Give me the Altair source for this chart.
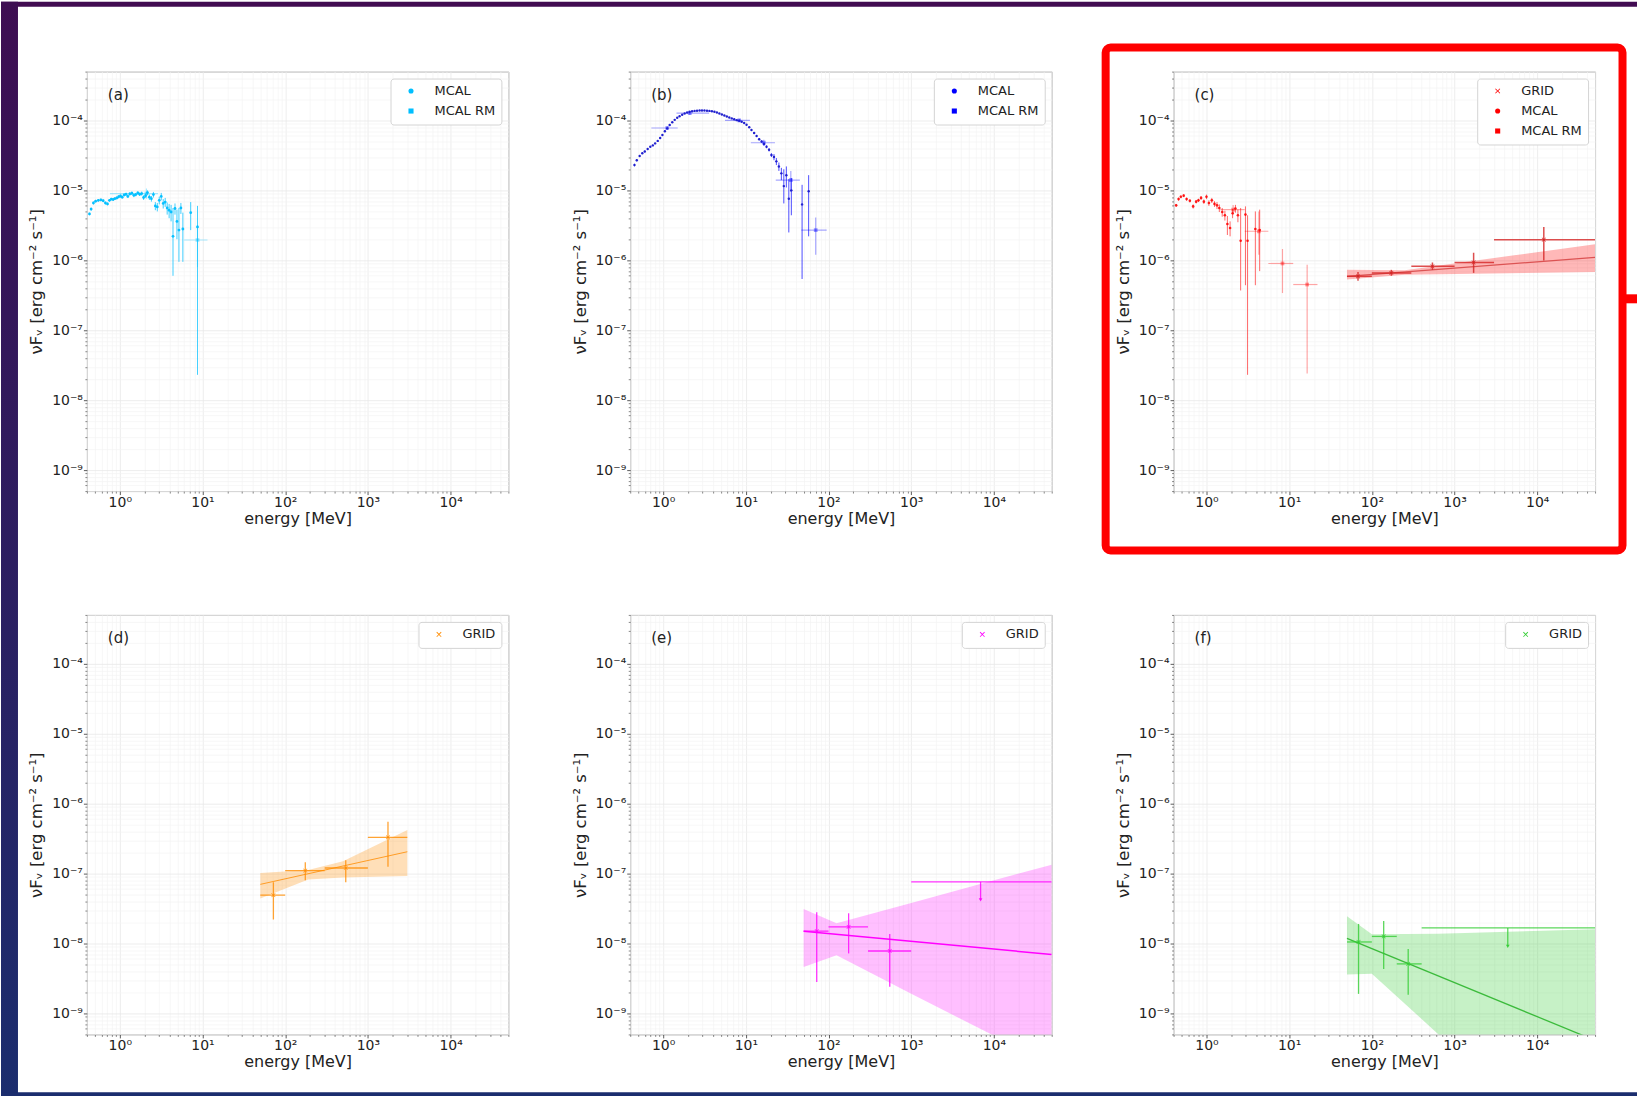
import altair as alt
import pandas as pd

FONT = "DejaVu Sans"
W, H = 422, 420
XS = alt.Scale(type="log", domain=[0.4, 5e4], nice=False)
YS = alt.Scale(type="log", domain=[5e-10, 5e-4], nice=False)
XPATH = "M-1,-0.78L-0.78,-1L0,-0.22L0.78,-1L1,-0.78L0.22,0L1,0.78L0.78,1L0,0.22L-0.78,1L-1,0.78L-0.22,0Z"

# ---------------- tick labels ----------------
X_MAJOR = [1, 10, 100, 1000, 10000]
X_EXP = [0, 1, 2, 3, 4]
X_TXT = ["10⁰", "10¹", "10²", "10³", "10⁴"]
Y_MAJOR = [1e-9, 1e-8, 1e-7, 1e-6, 1e-5, 1e-4]
Y_EXP = [-9, -8, -7, -6, -5, -4]
Y_TXT = ["10⁻⁹", "10⁻⁸", "10⁻⁷", "10⁻⁶", "10⁻⁵", "10⁻⁴"]
X_MINOR = [m * 10.0 ** k for k in range(-1, 5) for m in range(2, 10) if 0.4 <= m * 10.0 ** k <= 5e4]
Y_MINOR = [m * 10.0 ** k for k in range(-10, -3) for m in range(2, 10) if 5e-10 <= m * 10.0 ** k <= 5e-4]
X_TITLE = "energy [MeV]"
Y_TITLE = "νFᵥ [erg cm⁻² s⁻¹]"

# ---------------- panel (a) ----------------
a_E = [0.43, 0.45, 0.48, 0.51, 0.55, 0.59, 0.63, 0.67, 0.71, 0.75, 0.79, 0.83, 0.87, 0.92, 0.97, 1.02, 1.07,
       1.13, 1.19, 1.25, 1.32, 1.40, 1.48, 1.56, 1.65, 1.74, 1.84, 1.94, 2.05, 2.16, 2.28, 2.41, 2.55, 2.69,
       2.84, 3.00, 3.17, 3.35, 3.54, 3.74, 3.95, 4.17, 4.40, 4.65, 4.91, 5.19, 5.48, 5.79, 7.2, 8.7]
a_F = [4.6, 5.4, 6.6, 7.0, 7.2, 7.3, 7.1, 6.6, 6.4, 7.2, 7.5, 7.4, 7.6, 7.8, 8.1, 8.3, 8.0, 8.6, 8.8, 8.2,
       8.9, 9.1, 8.5, 8.7, 9.2, 8.8, 9.0, 7.9, 8.4, 9.3, 8.0, 7.6, 8.7, 6.0, 5.8, 7.2, 8.2, 6.5, 6.8, 5.6,
       5.2, 4.9, 2.2, 5.5, 3.6, 2.7, 5.6, 2.8, 4.8, 3.0]
a_lo = [4.4, 5.1, 6.3, 6.7, 6.9, 7.0, 6.8, 6.3, 6.1, 6.9, 7.2, 7.1, 7.3, 7.4, 7.7, 7.9, 7.6, 8.2, 8.4, 7.8,
        8.4, 8.6, 8.0, 8.2, 8.7, 8.3, 8.4, 7.3, 7.8, 8.6, 7.3, 6.9, 7.9, 5.2, 5.0, 6.3, 7.2, 5.5, 5.8, 4.5,
        4.0, 3.6, 0.6, 4.5, 2.0, 0.95, 4.6, 0.95, 2.7, 0.023]
a_hi = [4.8, 5.7, 6.9, 7.3, 7.5, 7.6, 7.4, 6.9, 6.7, 7.5, 7.8, 7.7, 7.9, 8.2, 8.5, 8.7, 8.4, 9.0, 9.2, 8.6,
        9.4, 9.6, 9.0, 9.2, 9.7, 9.3, 9.6, 8.5, 9.0, 10.0, 8.7, 8.3, 9.5, 6.8, 6.6, 8.1, 9.2, 7.5, 7.8, 6.7,
        6.4, 6.2, 5.6, 6.5, 5.3, 5.6, 6.6, 4.8, 6.8, 6.0]
a_unit = 1e-6
a_rm_E = [2.1, 8.7]
a_rm_F = [9.0e-6, 1.95e-6]
a_rm_xlo = [0.76, 6.0]
a_rm_xhi = [2.9, 11.5]
a_rm_lo = [7.6e-6, 8.0e-7]
a_rm_hi = [1.06e-5, 3.2e-6]

# ---------------- panel (b) ----------------
b_E = [0.45, 0.48, 0.52, 0.56, 0.60, 0.65, 0.70, 0.75, 0.80, 0.86, 0.92, 0.98, 1.05, 1.12, 1.20, 1.29, 1.38,
       1.48, 1.58, 1.70, 1.82, 1.95, 2.09, 2.24, 2.40, 2.57, 2.76, 2.95, 3.16, 3.39, 3.63, 3.89, 4.17, 4.47,
       4.79, 5.13, 5.50, 5.89, 6.31, 6.76, 7.24, 7.76, 8.32, 8.91, 9.55, 10.2, 11.0, 11.7, 12.6, 13.5, 14.5,
       15.5, 16.6, 17.8, 19.1, 20.4, 21.9, 23.4, 25.1, 26.9, 28.8, 30.9, 33.1, 35.5, 47.9, 57.5]
b_F = [2.3, 2.7, 3.1, 3.4, 3.6, 3.9, 4.2, 4.4, 4.7, 5.1, 5.6, 6.2, 7.0, 7.7, 8.6, 9.4, 10.2, 10.9, 11.5, 12.1,
       12.6, 13.0, 13.3, 13.5, 13.7, 13.8, 13.9, 13.9, 13.9, 13.8, 13.7, 13.5, 13.3, 13.0, 12.6, 12.2, 11.8,
       11.4, 11.0, 10.7, 10.4, 10.1, 9.9, 9.6, 9.2, 8.7, 8.0, 7.3, 6.6, 6.0, 5.4, 5.0, 4.6, 4.2, 3.8, 3.2, 3.0,
       2.6, 2.2, 1.75, 1.15, 1.65, 0.76, 1.0, 0.63, 0.97]
b_lo = [2.2, 2.6, 3.0, 3.3, 3.5, 3.8, 4.1, 4.3, 4.6, 5.0, 5.5, 6.0, 6.8, 7.5, 8.4, 9.2, 10.0, 10.7, 11.3, 11.9,
        12.4, 12.8, 13.1, 13.3, 13.5, 13.6, 13.7, 13.7, 13.7, 13.6, 13.5, 13.3, 13.1, 12.8, 12.4, 12.0, 11.6,
        11.2, 10.8, 10.5, 10.2, 9.9, 9.7, 9.4, 9.0, 8.5, 7.8, 7.1, 6.4, 5.8, 5.2, 4.8, 4.4, 4.0, 3.6, 3.0, 2.7,
        2.3, 1.9, 1.4, 0.65, 1.1, 0.25, 0.44, 0.054, 0.22]
b_hi = [2.4, 2.8, 3.2, 3.5, 3.7, 4.0, 4.3, 4.5, 4.8, 5.2, 5.7, 6.4, 7.2, 7.9, 8.8, 9.6, 10.4, 11.1, 11.7, 12.3,
        12.8, 13.2, 13.5, 13.7, 13.9, 14.0, 14.1, 14.1, 14.1, 14.0, 13.9, 13.7, 13.5, 13.2, 12.8, 12.4, 12.0,
        11.6, 11.2, 10.9, 10.6, 10.3, 10.1, 9.8, 9.4, 8.9, 8.2, 7.5, 6.8, 6.2, 5.6, 5.2, 4.8, 4.4, 4.0, 3.4, 3.3,
        2.9, 2.5, 2.1, 2.0, 2.2, 1.45, 1.5, 1.2, 1.65]
b_unit = 1e-5
b_rm_E = [1.12, 2.1, 8.3, 16.5, 35, 70]
b_rm_F = [7.8e-5, 1.27e-4, 1.0e-4, 4.8e-5, 1.4e-5, 2.7e-6]
b_rm_xlo = [0.72, 1.45, 5.6, 11.5, 23, 47]
b_rm_xhi = [1.5, 3.6, 11.2, 22.5, 45, 95]
b_rm_lo = [7.3e-5, 1.2e-4, 9.4e-5, 4.3e-5, 9.5e-6, 1.2e-6]
b_rm_hi = [8.3e-5, 1.34e-4, 1.06e-4, 5.3e-5, 1.9e-5, 4.1e-6]

# ---------------- panel (c) ----------------
c_E = [0.43, 0.46, 0.49, 0.53, 0.575, 0.63, 0.69, 0.75, 0.80, 0.86, 0.93, 1.0, 1.07, 1.16, 1.25, 1.34, 1.43,
       1.55, 1.67, 1.79, 1.93, 2.07, 2.24, 2.40, 2.59, 2.96, 3.14, 3.9, 4.4]
c_F = [6.1, 7.5, 8.1, 8.4, 7.5, 7.1, 5.9, 6.9, 7.2, 7.8, 6.9, 8.1, 6.6, 7.2, 6.4, 6.1, 5.6, 4.9, 4.4, 3.3,
       2.9, 4.7, 5.5, 4.4, 1.9, 4.5, 1.9, 2.8, 2.7]
c_lo = [5.8, 7.1, 7.7, 8.0, 7.1, 6.7, 5.5, 6.5, 6.8, 7.3, 6.4, 7.5, 6.0, 6.6, 5.8, 5.4, 4.9, 4.2, 3.7, 2.3,
        2.2, 4.0, 4.8, 3.5, 0.37, 0.44, 0.023, 0.44, 0.70]
c_hi = [6.4, 7.9, 8.5, 8.8, 7.9, 7.5, 6.3, 7.3, 7.6, 8.3, 7.4, 8.7, 7.2, 7.8, 7.0, 6.8, 6.3, 5.6, 5.1, 4.3,
        3.6, 5.4, 6.2, 5.3, 5.6, 5.9, 4.4, 5.0, 5.3]
c_unit = 1e-6
c_rm_E = [2.1, 4.3, 8.3, 16.5]
c_rm_F = [5.3e-6, 2.6e-6, 9.0e-7, 4.5e-7]
c_rm_xlo = [1.47, 2.9, 5.6, 11.2]
c_rm_xhi = [2.9, 5.6, 11.2, 22.0]
c_rm_lo = [4.5e-6, 1.2e-6, 3.4e-7, 2.4e-8]
c_rm_hi = [6.2e-6, 5.0e-6, 1.45e-6, 8.6e-7]
c_g_E = [68, 172, 540, 1700, 12000]
c_g_F = [5.9e-7, 6.6e-7, 8.2e-7, 9.3e-7, 1.97e-6]
c_g_lo = [5.1e-7, 6.0e-7, 7.3e-7, 6.6e-7, 9.9e-7]
c_g_hi = [6.8e-7, 7.3e-7, 9.3e-7, 1.28e-6, 3.0e-6]
c_g_xlo = [50, 100, 300, 1000, 3000]
c_g_xhi = [100, 300, 1000, 3000, 50000]
c_fit_E = [50, 50000]
c_fit_F = [5.9e-7, 1.1e-6]
c_band_E = [50, 250, 50000]
c_band_lo = [5.3e-7, 6.2e-7, 6.8e-7]
c_band_hi = [7.3e-7, 7.2e-7, 1.7e-6]

# ---------------- panel (d) ----------------
d_g_E = [72, 175, 540, 1750]
d_g_F = [4.9e-8, 1.1e-7, 1.2e-7, 3.3e-7]
d_g_lo = [2.2e-8, 8.0e-8, 7.5e-8, 1.25e-7]
d_g_hi = [7.5e-8, 1.45e-7, 1.55e-7, 5.5e-7]
d_g_xlo = [50, 100, 300, 1000]
d_g_xhi = [100, 300, 1000, 3000]
d_fit_E = [50, 3000]
d_fit_F = [7.0e-8, 2.05e-7]
d_band_E = [50, 190, 500, 3000]
d_band_lo = [4.4e-8, 8.2e-8, 8.8e-8, 9.2e-8]
d_band_hi = [1.02e-7, 1.12e-7, 1.5e-7, 4.2e-7]

# ---------------- panel (e) ----------------
e_g_E = [72, 175, 550]
e_g_F = [1.5e-8, 1.73e-8, 7.8e-9]
e_g_lo = [2.8e-9, 7.2e-9, 2.4e-9]
e_g_hi = [2.8e-8, 2.7e-8, 1.37e-8]
e_g_xlo = [50, 100, 300]
e_g_xhi = [100, 300, 1000]
e_ul_E = [6900]
e_ul_F = [7.6e-8]
e_ul_end = [4.2e-8]
e_ul_xlo = [1000]
e_ul_xhi = [50000]
e_fit_E = [50, 50000]
e_fit_F = [1.5e-8, 6.95e-9]
e_band_E = [50, 125, 1000, 10000, 50000]
e_band_lo = [4.6e-9, 6.8e-9, 1.9e-9, 4.8e-10, 1.9e-10]
e_band_hi = [3.1e-8, 1.95e-8, 3.8e-8, 8.0e-8, 1.34e-7]

# ---------------- panel (f) ----------------
f_g_E = [69, 139, 275]
f_g_F = [1.05e-8, 1.26e-8, 5.1e-9]
f_g_lo = [1.9e-9, 4.3e-9, 1.85e-9]
f_g_hi = [1.9e-8, 2.1e-8, 8.3e-9]
f_g_xlo = [50, 100, 200]
f_g_xhi = [100, 200, 400]
f_ul_E = [4400]
f_ul_F = [1.67e-8]
f_ul_end = [9.1e-9]
f_ul_xlo = [400]
f_ul_xhi = [50000]
f_fit_E = [50, 50000]
f_fit_F = [1.18e-8, 4.1e-10]
f_band_E = [50, 100, 640, 50000]
f_band_lo = [3.6e-9, 3.7e-9, 5.0e-10, 4.6e-12]
f_band_hi = [2.45e-8, 1.35e-8, 1.38e-8, 1.6e-8]

COL_A, COL_B, COL_C = "#00bfff", "#0000ff", "#ff0000"
COL_D, COL_E, COL_F = "#ff8c00", "#ff00ff", "#32cd32"


def label_expr(exps, txts):
    parts = [f"abs(log(datum.value)/LN10 - ({e})) < 0.01 ? '{t}'" for e, t in zip(exps, txts)]
    return " : ".join(parts) + " : ''"


def major_x():
    return alt.Axis(orient="bottom", values=X_MAJOR, labelExpr=label_expr(X_EXP, X_TXT), title=X_TITLE,
                    tickSize=3.5, tickWidth=0.8, tickColor="#333", labelPadding=1, labelFont=FONT,
                    labelFontSize=14, labelColor="#222", labelFlush=False, labelOverlap=False, domain=False,
                    grid=True, gridColor="#e9e9e9", gridWidth=0.8, titleFont=FONT, titleFontSize=16,
                    titleFontWeight="normal", titleColor="#222", titleX=W / 2, titleY=27,
                    titleAlign="center", titleBaseline="middle")


def major_y():
    return alt.Axis(orient="left", values=Y_MAJOR, labelExpr=label_expr(Y_EXP, Y_TXT), title=Y_TITLE,
                    tickSize=3.5, tickWidth=0.8, tickColor="#333", labelPadding=1, labelFont=FONT,
                    labelFontSize=14, labelColor="#222", labelFlush=False, labelOverlap=False, domain=False,
                    grid=True, gridColor="#e9e9e9", gridWidth=0.8, titleFont=FONT, titleFontSize=16.5,
                    titleFontWeight="normal", titleColor="#222", titleX=-50, titleY=H / 2, titleAngle=270,
                    titleAlign="center", titleBaseline="middle")


def minor_x():
    return alt.Axis(orient="bottom", values=X_MINOR, labels=False, tickSize=2, tickWidth=0.7,
                    tickColor="#555", domain=False, grid=True, gridColor="#f3f3f3", gridWidth=0.7, title="")


def minor_y():
    return alt.Axis(orient="left", values=Y_MINOR, labels=False, tickSize=2, tickWidth=0.7,
                    tickColor="#555", domain=False, grid=True, gridColor="#f3f3f3", gridWidth=0.7, title="")


def one_row():
    return alt.InlineData(values=[{"k": 0}])


def xe(field):
    return alt.X(field, type="quantitative", scale=XS, axis=None)


def ye(field):
    return alt.Y(field, type="quantitative", scale=YS, axis=None)


def yerr(df, col, op, sw=1.0):
    return alt.Chart(df).mark_rule(clip=True, color=col, opacity=op, strokeWidth=sw).encode(
        x=xe("E"), y=ye("lo"), y2="hi")


def xerr(df, col, op, sw=1.0):
    return alt.Chart(df).mark_rule(clip=True, color=col, opacity=op, strokeWidth=sw).encode(
        x=xe("xlo"), x2="xhi", y=ye("F"))


def pts(df, col, op, shape, size):
    return alt.Chart(df).mark_point(clip=True, filled=True, color=col, opacity=op, shape=shape,
                                    size=size, strokeWidth=0).encode(x=xe("E"), y=ye("F"))


def band(E, lo, hi, col, op):
    df = pd.DataFrame({"E": E, "lo": lo, "hi": hi})
    return alt.Chart(df).mark_area(clip=True, color=col, opacity=op).encode(x=xe("E"), y=ye("lo"), y2="hi")


def fit(E, F, col, op, sw):
    df = pd.DataFrame({"E": E, "F": F})
    return alt.Chart(df).mark_line(clip=True, color=col, opacity=op, strokeWidth=sw).encode(x=xe("E"), y=ye("F"))


def legend_layers(labels, shapes, col):
    df = pd.DataFrame({"E": [1e-3] * len(labels), "F": [1e-6] * len(labels), "lab": labels})
    leg = alt.Legend(orient="top-right", offset=7, title=None, padding=6, strokeColor="#d4d4d4",
                     fillColor="#ffffff", cornerRadius=3, labelFont=FONT, labelFontSize=13,
                     labelColor="#222", symbolSize=26, symbolOffset=8, labelOffset=17, rowPadding=6,
                     symbolStrokeWidth=0)
    lg = alt.Chart(df).mark_point(filled=True, size=26, clip=True, opacity=1, strokeWidth=0).encode(
        x=alt.X("E:Q", scale=XS, axis=major_x()),
        y=alt.Y("F:Q", scale=YS, axis=major_y()),
        color=alt.Color("lab:N", scale=alt.Scale(domain=labels, range=[col] * len(labels)), legend=leg),
        shape=alt.Shape("lab:N", scale=alt.Scale(domain=labels, range=shapes), legend=leg))
    mn = alt.Chart(df).mark_point(clip=True, opacity=0).encode(
        x=alt.X("E:Q", scale=XS, axis=minor_x()),
        y=alt.Y("F:Q", scale=YS, axis=minor_y()))
    return [mn, lg]


def tag(txt):
    return alt.Chart(one_row()).mark_text(text=txt, align="left", baseline="middle", font=FONT, fontSize=15,
                                          color="#222").encode(x=alt.value(21), y=alt.value(23))


def deco_rect(x, x2, y, y2, **mk):
    return alt.Chart(one_row()).mark_rect(clip=False, **mk).encode(
        x=alt.value(x), x2=alt.value(x2), y=alt.value(y), y2=alt.value(y2))


def mcal_df(E, F, lo, hi, unit):
    return pd.DataFrame({"E": E, "F": [v * unit for v in F], "lo": [v * unit for v in lo],
                         "hi": [v * unit for v in hi]})


def full_df(E, F, lo, hi, xlo, xhi):
    return pd.DataFrame({"E": E, "F": F, "lo": lo, "hi": hi, "xlo": xlo, "xhi": xhi})


def finish(layers):
    return alt.layer(*layers).resolve_axis(x="independent", y="independent").properties(width=W, height=H)


# ---------- panel a ----------
a_m = mcal_df(a_E, a_F, a_lo, a_hi, a_unit)
a_r = full_df(a_rm_E, a_rm_F, a_rm_lo, a_rm_hi, a_rm_xlo, a_rm_xhi)
top_strip = deco_rect(-86, 1552, -70, -65, color="#420c52")
pa = finish([top_strip,
             xerr(a_r, COL_A, 0.35, 1.2), yerr(a_r, COL_A, 0.35, 1.2), pts(a_r, COL_A, 0.4, "square", 14),
             yerr(a_m, COL_A, 0.75, 1.0), pts(a_m, COL_A, 0.95, "circle", 8),
             tag("(a)")] + legend_layers(["MCAL", "MCAL RM"], ["circle", "square"], COL_A))

# ---------- panel b ----------
b_m = mcal_df(b_E, b_F, b_lo, b_hi, b_unit)
b_r = full_df(b_rm_E, b_rm_F, b_rm_lo, b_rm_hi, b_rm_xlo, b_rm_xhi)
pb = finish([xerr(b_r, COL_B, 0.35, 1.2), yerr(b_r, COL_B, 0.35, 1.2), pts(b_r, COL_B, 0.4, "square", 14),
             yerr(b_m, COL_B, 0.7, 1.0), pts(b_m, "#1a1acc", 0.95, "circle", 6),
             tag("(b)")] + legend_layers(["MCAL", "MCAL RM"], ["circle", "square"], COL_B))

# ---------- panel c ----------
c_m = mcal_df(c_E, c_F, c_lo, c_hi, c_unit)
c_r = full_df(c_rm_E, c_rm_F, c_rm_lo, c_rm_hi, c_rm_xlo, c_rm_xhi)
c_g = full_df(c_g_E, c_g_F, c_g_lo, c_g_hi, c_g_xlo, c_g_xhi)
red_box = deco_rect(-68, 449.5, -24, 479.5, filled=False, color="#ff0000", strokeWidth=8, cornerRadius=5)
red_stub = deco_rect(449, 464, 223, 232, color="#ff0000")
pc = finish([red_box, red_stub,
             band(c_band_E, c_band_lo, c_band_hi, COL_C, 0.28),
             fit(c_fit_E, c_fit_F, "#d84848", 0.9, 1.2),
             xerr(c_r, COL_C, 0.35, 1.2), yerr(c_r, COL_C, 0.35, 1.2), pts(c_r, COL_C, 0.4, "square", 14),
             yerr(c_m, COL_C, 0.6, 1.0), pts(c_m, COL_C, 0.85, "circle", 7),
             xerr(c_g, "#d42222", 0.8, 1.5), yerr(c_g, "#d42222", 0.8, 1.5), pts(c_g, "#d42222", 0.9, XPATH, 18),
             tag("(c)")] + legend_layers(["GRID", "MCAL", "MCAL RM"], [XPATH, "circle", "square"], COL_C))

# ---------- panel d ----------
d_g = full_df(d_g_E, d_g_F, d_g_lo, d_g_hi, d_g_xlo, d_g_xhi)
left_strip = deco_rect(-86, -69, -614, 482, fill=alt.LinearGradient(
    gradient="linear", x1=0, x2=0, y1=0, y2=1,
    stops=[alt.GradientStop(offset=0, color="#3e0e52"), alt.GradientStop(offset=1, color="#1b2d6e")]))
bottom_strip = deco_rect(-86, 1552, 478, 482, color="#1b2d6e")
pd_ = finish([left_strip, bottom_strip,
              band(d_band_E, d_band_lo, d_band_hi, COL_D, 0.28),
              fit(d_fit_E, d_fit_F, COL_D, 0.8, 1.0),
              xerr(d_g, COL_D, 0.8, 1.3), yerr(d_g, COL_D, 0.8, 1.3), pts(d_g, COL_D, 0.9, XPATH, 18),
              tag("(d)")] + legend_layers(["GRID"], [XPATH], COL_D))

# ---------- panel e ----------
e_g = full_df(e_g_E, e_g_F, e_g_lo, e_g_hi, e_g_xlo, e_g_xhi)
e_u = pd.DataFrame({"E": e_ul_E, "F": e_ul_F, "lo": e_ul_end, "hi": e_ul_F, "xlo": e_ul_xlo, "xhi": e_ul_xhi})
e_ua = pd.DataFrame({"E": e_ul_E, "F": e_ul_end})
pe = finish([band(e_band_E, e_band_lo, e_band_hi, COL_E, 0.25),
             fit(e_fit_E, e_fit_F, COL_E, 1.0, 1.5),
             xerr(e_g, COL_E, 0.8, 1.3), yerr(e_g, COL_E, 0.8, 1.3), pts(e_g, COL_E, 0.9, XPATH, 18),
             xerr(e_u, COL_E, 0.8, 1.3), yerr(e_u, COL_E, 0.8, 1.3), pts(e_ua, COL_E, 0.9, "triangle-down", 14),
             tag("(e)")] + legend_layers(["GRID"], [XPATH], COL_E))

# ---------- panel f ----------
f_g = full_df(f_g_E, f_g_F, f_g_lo, f_g_hi, f_g_xlo, f_g_xhi)
f_u = pd.DataFrame({"E": f_ul_E, "F": f_ul_F, "lo": f_ul_end, "hi": f_ul_F, "xlo": f_ul_xlo, "xhi": f_ul_xhi})
f_ua = pd.DataFrame({"E": f_ul_E, "F": f_ul_end})
pf = finish([band(f_band_E, f_band_lo, f_band_hi, COL_F, 0.28),
             fit(f_fit_E, f_fit_F, "#2cb52c", 0.9, 1.3),
             xerr(f_g, COL_F, 0.8, 1.3), yerr(f_g, COL_F, 0.8, 1.3), pts(f_g, COL_F, 0.9, XPATH, 18),
             xerr(f_u, COL_F, 0.8, 1.3), yerr(f_u, COL_F, 0.8, 1.3), pts(f_ua, COL_F, 0.9, "triangle-down", 14),
             tag("(f)")] + legend_layers(["GRID"], [XPATH], COL_F))

chart = alt.concat(pa, pb, pc, pd_, pe, pf, columns=3, spacing={"row": 124, "column": 122}, bounds="flush")
chart = chart.resolve_scale(color="independent", shape="independent").properties(
    padding=0, background="#ffffff").configure(font=FONT).configure_view(stroke="#9c9c9c", strokeWidth=1,
                                                                          fill="#ffffff")

chart.save("out.html", embed_options={"renderer": "svg", "actions": False})
